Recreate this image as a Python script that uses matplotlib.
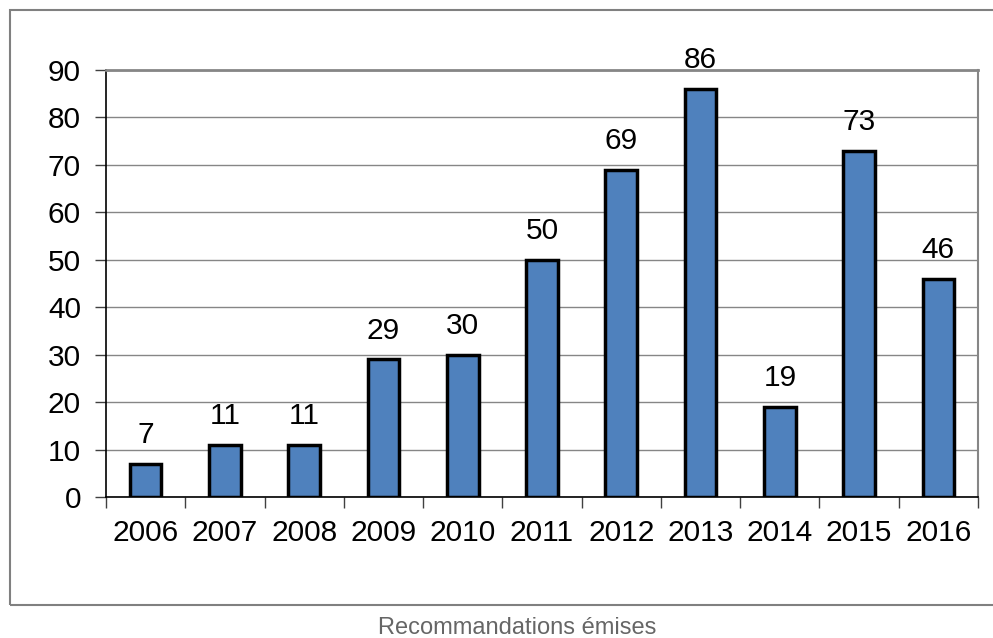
import matplotlib
matplotlib.use("Agg")
import matplotlib.pyplot as plt
from matplotlib.patches import Rectangle

years = ["2006", "2007", "2008", "2009", "2010", "2011", "2012", "2013", "2014", "2015", "2016"]
values = [7, 11, 11, 29, 30, 50, 69, 86, 19, 73, 46]
yticks = [0, 10, 20, 30, 40, 50, 60, 70, 80, 90]
caption = "Recommandations émises"

plt.rcParams['font.family'] = ['Liberation Sans', 'DejaVu Sans']

W, H = 993, 638
fig = plt.figure(figsize=(W / 100, H / 100), dpi=100)
ax = fig.add_axes([106 / W, 1 - 497 / H, (978 - 106) / W, (497 - 70) / H])

x = list(range(len(years)))
ax.bar(x, values, width=0.4, color="#4F81BD", edgecolor="black", linewidth=2.5, zorder=3)
for xi, v in zip(x, values):
    ax.annotate(str(v), (xi, v), xytext=(0, 10.5), textcoords="offset points",
                ha="center", va="bottom", fontsize=21.5, color="black", zorder=4)

ax.set_xlim(-0.5, len(years) - 0.5)
ax.set_ylim(0, 90)
ax.set_yticks(yticks)
ax.set_yticklabels([str(t) for t in yticks], fontsize=21.5)
ax.yaxis.grid(True, color="#868686", linewidth=1, zorder=0)
ax.set_xticks([i - 0.5 for i in range(len(years) + 1)], minor=False)
ax.set_xticklabels([])
ax.set_xticks(x, minor=True)
ax.set_xticklabels(years, minor=True, fontsize=21.5)
ax.tick_params(axis="x", which="major", direction="out", length=8, width=1, color="#404040")
ax.tick_params(axis="x", which="minor", length=0, pad=16)
ax.tick_params(axis="y", direction="out", length=8, width=1, color="#404040", pad=10)

for s in ["left", "bottom"]:
    ax.spines[s].set_color("black")
    ax.spines[s].set_linewidth(1.2)
for s in ["top", "right"]:
    ax.spines[s].set_color("#868686")
    ax.spines[s].set_linewidth(1.5)
ax.spines["top"].set_linewidth(2)

fig.patches.append(Rectangle((10 / W, 1 - 605 / H), 1.2, (605 - 10) / H,
                             transform=fig.transFigure, fill=False,
                             edgecolor="#808080", linewidth=1.5))
fig.text(517 / W, 1 - 628 / H, caption, ha="center", va="center", fontsize=17, color="#666666")

fig.savefig("out.png", dpi=100)
